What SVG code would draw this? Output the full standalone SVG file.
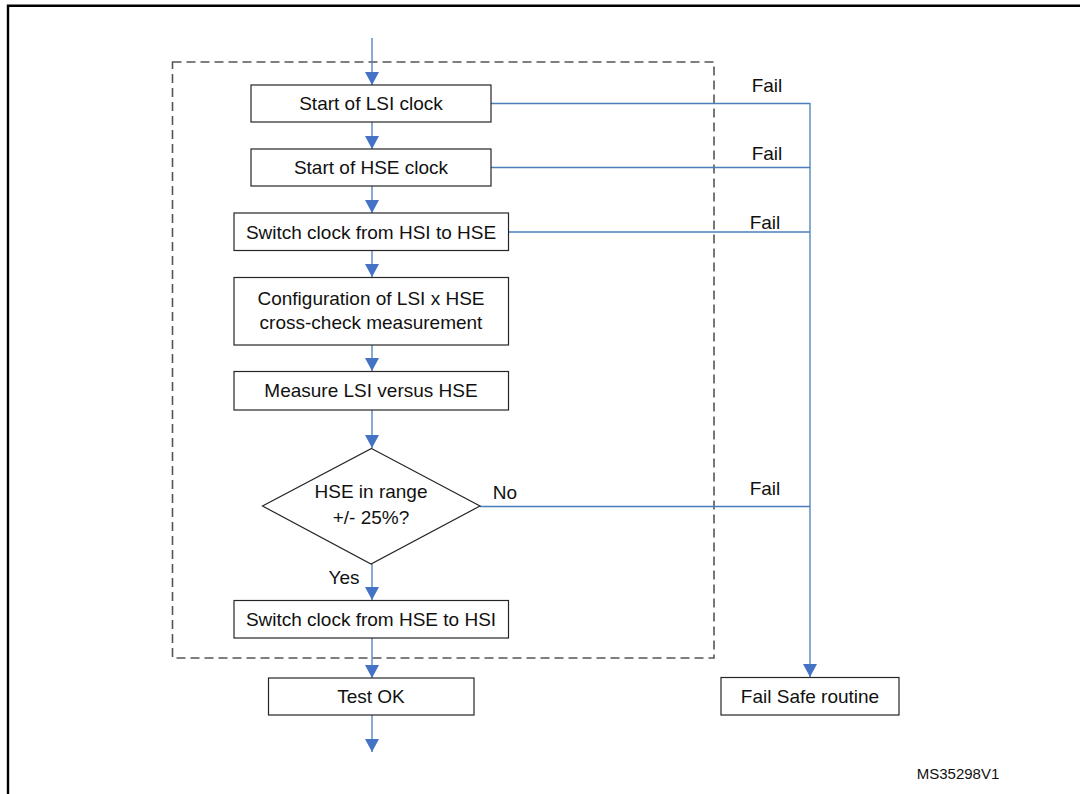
<svg xmlns="http://www.w3.org/2000/svg" width="1080" height="794" viewBox="0 0 1080 794">
  <style>
    .frame { fill: none; stroke: #000; stroke-width: 2.4; }
    .group { fill: none; stroke: #555; stroke-width: 1.6; stroke-dasharray: 9 5; }
    .box { fill: #fff; stroke: #262626; stroke-width: 1.2; }
    .lbl { font-family: "Liberation Sans", Arial, sans-serif; font-size: 19px; fill: #111; text-anchor: middle; }
    .edge { fill: none; stroke: #4a7ebb; stroke-width: 1.3; }
    .ref { font-family: "Liberation Sans", Arial, sans-serif; font-size: 15px; fill: #111; text-anchor: middle; }
  </style>
  <defs>
    <marker id="arrow" viewBox="0 0 13 14" refX="13" refY="7" markerWidth="13" markerHeight="14" markerUnits="userSpaceOnUse" orient="auto">
      <path d="M0,0 L13,7 L0,14 Z" fill="#4472c4"/>
    </marker>
  </defs>

  <rect width="1080" height="794" fill="#fff"/>

  <!-- outer frame (runs off right and bottom) -->
  <path class="frame" d="M8,800 V5.8 H1090"/>

  <!-- dashed self-test boundary -->
  <rect class="group" x="172.5" y="62" width="541.5" height="596"/>

  <!-- connectors -->
  <g id="connectors">
    <path class="edge" d="M372,38 V85" marker-end="url(#arrow)"/>
    <path class="edge" d="M372,122 V149" marker-end="url(#arrow)"/>
    <path class="edge" d="M372,186 V213" marker-end="url(#arrow)"/>
    <path class="edge" d="M372,250 V277" marker-end="url(#arrow)"/>
    <path class="edge" d="M372,345 V371" marker-end="url(#arrow)"/>
    <path class="edge" d="M372,410 V448" marker-end="url(#arrow)"/>
    <path class="edge" d="M372,564 V600" marker-end="url(#arrow)"/>
    <path class="edge" d="M372,638 V678" marker-end="url(#arrow)"/>
    <path class="edge" d="M372,715 V752" marker-end="url(#arrow)"/>
    <!-- fail branches merging into the fail-safe line -->
    <path class="edge" d="M491,103.5 H810"/>
    <path class="edge" d="M491,167.5 H810"/>
    <path class="edge" d="M509,232 H810"/>
    <path class="edge" d="M480,506.5 H810"/>
    <path class="edge" d="M810,103 V677" marker-end="url(#arrow)"/>
    <text class="lbl" x="767" y="92">Fail</text>
    <text class="lbl" x="767" y="159.5">Fail</text>
    <text class="lbl" x="765" y="228.5">Fail</text>
    <text class="lbl" x="765" y="495">Fail</text>
    <text class="lbl" x="505" y="499">No</text>
    <text class="lbl" x="344" y="584">Yes</text>
  </g>

  <g id="start-lsi">
    <rect class="box" x="251" y="85" width="240" height="37"/>
    <text class="lbl" x="371" y="110">Start of LSI clock</text>
  </g>
  <g id="start-hse">
    <rect class="box" x="251" y="149" width="240" height="37"/>
    <text class="lbl" x="371" y="174">Start of HSE clock</text>
  </g>
  <g id="switch-hsi-hse">
    <rect class="box" x="234" y="213" width="274.5" height="37.5"/>
    <text class="lbl" x="371" y="238.5">Switch clock from HSI to HSE</text>
  </g>
  <g id="config-measure">
    <rect class="box" x="234" y="277.5" width="274.5" height="67.5"/>
    <text class="lbl" x="371" y="305">Configuration of LSI x HSE</text>
    <text class="lbl" x="371" y="329">cross-check measurement</text>
  </g>
  <g id="measure">
    <rect class="box" x="234" y="371.5" width="274.5" height="38.5"/>
    <text class="lbl" x="371" y="397">Measure LSI versus HSE</text>
  </g>
  <g id="range-check">
    <polygon class="box" points="371.5,448.5 480,506 371,564 262.5,506"/>
    <text class="lbl" x="371" y="498">HSE in range</text>
    <text class="lbl" x="371" y="524">+/- 25%?</text>
  </g>
  <g id="switch-hse-hsi">
    <rect class="box" x="234" y="600.5" width="274.5" height="37.5"/>
    <text class="lbl" x="371" y="626">Switch clock from HSE to HSI</text>
  </g>
  <g id="test-ok">
    <rect class="box" x="268.5" y="678" width="205.5" height="37"/>
    <text class="lbl" x="371" y="703">Test OK</text>
  </g>
  <g id="fail-safe">
    <rect class="box" x="721" y="677.5" width="178" height="37.5"/>
    <text class="lbl" x="810" y="702.5">Fail Safe routine</text>
  </g>

  <text class="ref" x="958" y="779">MS35298V1</text>
</svg>
